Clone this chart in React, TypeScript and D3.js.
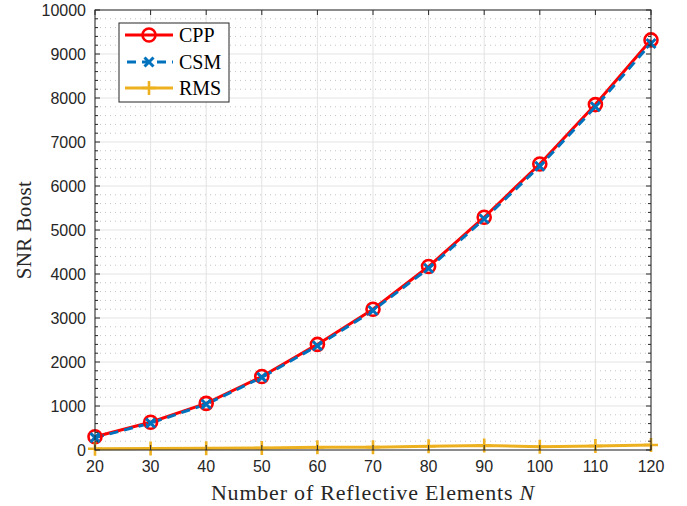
import React from "react";
import * as d3 from "d3";

const elements = [20, 30, 40, 50, 60, 70, 80, 90, 100, 110, 120];
const cppValues = [300, 630, 1060, 1670, 2400, 3200, 4170, 5290, 6500, 7850, 9320];
const csmValues = [280, 610, 1040, 1650, 2370, 3170, 4130, 5250, 6450, 7800, 9240];
const rmsValues = [30, 35, 40, 45, 60, 65, 85, 100, 75, 90, 115];
const xTicks = [20, 30, 40, 50, 60, 70, 80, 90, 100, 110, 120];
const yTicks = [0, 1000, 2000, 3000, 4000, 5000, 6000, 7000, 8000, 9000, 10000];
const seriesNames = ["CPP", "CSM", "RMS"];

const W = 687;
const H = 506;
const L = 95, R = 651, T = 10, B = 450;

const x = d3.scaleLinear().domain([20, 120]).range([L, R]);
const y = d3.scaleLinear().domain([0, 10000]).range([B, T]);

const axisColor = "#262626";
const sans = "'Liberation Sans', Arial, Helvetica, sans-serif";
const serif = "'Liberation Serif', 'DejaVu Serif', serif";

const RED = "#ff0000";
const BLUE = "#0072BD";
const ORANGE = "#EDB120";

function Circle({ cx, cy }: { cx: number; cy: number }) {
  return <circle cx={cx} cy={cy} r={6.5} fill="none" stroke={RED} strokeWidth={2.6} />;
}
function Cross({ cx, cy }: { cx: number; cy: number }) {
  const s = 4.5;
  return (
    <path
      d={`M${cx - s},${cy - s}L${cx + s},${cy + s}M${cx - s},${cy + s}L${cx + s},${cy - s}`}
      stroke={BLUE}
      strokeWidth={3}
      fill="none"
    />
  );
}
function Plus({ cx, cy }: { cx: number; cy: number }) {
  const s = 7;
  return (
    <path
      d={`M${cx - s},${cy}L${cx + s},${cy}M${cx},${cy - s}L${cx},${cy + s}`}
      stroke={ORANGE}
      strokeWidth={2.6}
      fill="none"
    />
  );
}

export default function App() {
  const line = d3
    .line<number>()
    .x((_, i) => x(elements[i]))
    .y((v) => y(v));

  const minorY = d3.range(0, 10001, 200).filter((v) => v % 1000 !== 0);

  const legendX = 119, legendY = 23, legendW = 110, legendH = 79;
  const entryY = [35, 62, 88];

  return (
    <svg width={W} height={H} style={{ position: "absolute", left: 0, top: 0, background: "#fff" }}>
      <rect x={0} y={0} width={W} height={H} fill="#fff" />
      {/* minor grid */}
      {minorY.map((v) => (
        <line key={"my" + v} x1={L} x2={R} y1={y(v)} y2={y(v)} stroke="#c4c4c4" strokeWidth={1} strokeDasharray="1,4" />
      ))}
      {/* major grid */}
      {xTicks.map((v) => (
        <line key={"gx" + v} x1={x(v)} x2={x(v)} y1={T} y2={B} stroke="#e3e3e3" strokeWidth={1} />
      ))}
      {yTicks.map((v) => (
        <line key={"gy" + v} x1={L} x2={R} y1={y(v)} y2={y(v)} stroke="#e3e3e3" strokeWidth={1} />
      ))}

      {/* series lines */}
      <path d={line(cppValues) || ""} fill="none" stroke={RED} strokeWidth={3} />
      <path d={line(csmValues) || ""} fill="none" stroke={BLUE} strokeWidth={3} strokeDasharray="9,6" />
      <path d={line(rmsValues) || ""} fill="none" stroke={ORANGE} strokeWidth={3} />

      {cppValues.map((v, i) => (
        <Circle key={"c" + i} cx={x(elements[i])} cy={y(v)} />
      ))}
      {csmValues.map((v, i) => (
        <Cross key={"x" + i} cx={x(elements[i])} cy={y(v)} />
      ))}
      {rmsValues.map((v, i) => (
        <Plus key={"p" + i} cx={x(elements[i])} cy={y(v)} />
      ))}

      {/* axes box */}
      <rect x={L} y={T} width={R - L} height={B - T} fill="none" stroke={axisColor} strokeWidth={1} />
      {xTicks.map((v) => (
        <g key={"tx" + v}>
          <line x1={x(v)} x2={x(v)} y1={B} y2={B - 5} stroke={axisColor} />
          <line x1={x(v)} x2={x(v)} y1={T} y2={T + 5} stroke={axisColor} />
          <text x={x(v)} y={B + 22} textAnchor="middle" fontFamily={sans} fontSize={16} fill={axisColor}>
            {v}
          </text>
        </g>
      ))}
      {yTicks.map((v) => (
        <g key={"ty" + v}>
          <line x1={L} x2={L + 5} y1={y(v)} y2={y(v)} stroke={axisColor} />
          <line x1={R} x2={R - 5} y1={y(v)} y2={y(v)} stroke={axisColor} />
          <text x={L - 9} y={y(v) + 5.5} textAnchor="end" fontFamily={sans} fontSize={16} fill={axisColor}>
            {v}
          </text>
        </g>
      ))}
      {minorY.map((v) => (
        <g key={"mt" + v}>
          <line x1={L} x2={L + 3} y1={y(v)} y2={y(v)} stroke={axisColor} />
          <line x1={R} x2={R - 3} y1={y(v)} y2={y(v)} stroke={axisColor} />
        </g>
      ))}

      {/* axis labels */}
      <text x={(L + R) / 2} y={500} textAnchor="middle" fontFamily={serif} fontSize={22} letterSpacing={0.8} fill={axisColor}>
        Number of Reflective Elements <tspan fontStyle="italic">N</tspan>
      </text>
      <text
        transform={`translate(31,${(T + B) / 2}) rotate(-90)`}
        textAnchor="middle"
        fontFamily={serif}
        fontSize={21}
        letterSpacing={0.4}
        fill={axisColor}
      >
        SNR Boost
      </text>

      {/* legend */}
      <rect x={legendX} y={legendY} width={legendW} height={legendH} fill="#fff" stroke={axisColor} strokeWidth={1} />
      <line x1={125} x2={173} y1={entryY[0]} y2={entryY[0]} stroke={RED} strokeWidth={3} />
      <Circle cx={149} cy={entryY[0]} />
      <line x1={125} x2={173} y1={entryY[1]} y2={entryY[1]} stroke={BLUE} strokeWidth={3} strokeDasharray="9,6" strokeDashoffset={-2} />
      <Cross cx={149} cy={entryY[1]} />
      <line x1={125} x2={173} y1={entryY[2]} y2={entryY[2]} stroke={ORANGE} strokeWidth={3} />
      <Plus cx={149} cy={entryY[2]} />
      {seriesNames.map((n, i) => (
        <text key={n} x={179} y={entryY[i] + 7} fontFamily={serif} fontSize={20} fill="#000">
          {n}
        </text>
      ))}
    </svg>
  );
}
